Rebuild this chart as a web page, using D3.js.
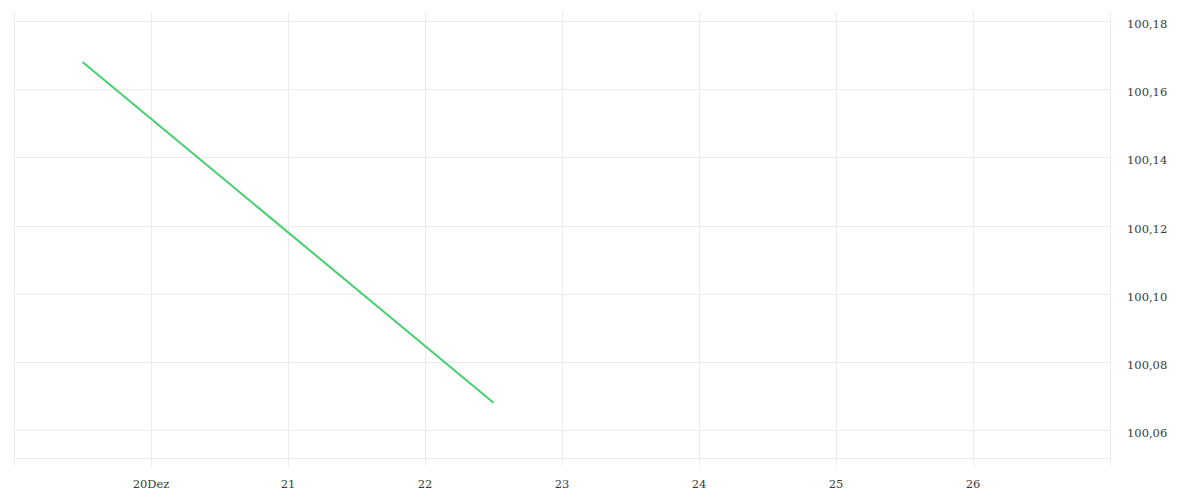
<!DOCTYPE html>
<html>
<head>
<meta charset="utf-8">
<script src="https://cdn.jsdelivr.net/npm/d3@7"></script>
<style>
  html, body { margin: 0; padding: 0; background: #fff; }
  svg text { font-family: "DejaVu Serif", serif; font-size: 11.5px; fill: #3a3a3a; }
</style>
</head>
<body>
<svg id="chart" width="1200" height="500"></svg>
<script>
// data
const dates = ['2019-12-19T12:00', '2019-12-22T12:00']
const values = [100.168, 100.068]
const yTicks = [100.06, 100.08, 100.10, 100.12, 100.14, 100.16, 100.18]
const xLabelDays = ['20Dez', '21', '22', '23', '24', '25', '26']
const xDomain = ['2019-12-19T00:00', '2019-12-27T00:00']

const plotLeft = 14, plotRight = 1110, plotTop = 12, plotBottom = 458, tickLen = 8

const svg = d3.select('#chart')
const parse = d3.isoParse
const data = dates.map((d, i) => ({date: parse(d), value: values[i]}))

const x = d3.scaleTime()
    .domain(xDomain.map(parse))
    .range([plotLeft, plotRight])

const y = d3.scaleLinear()
    .domain([100.06, 100.18])
    .range([430, 21])

const de = d3.formatLocale({decimal: ',', thousands: '.', grouping: [3], currency: ['', '€']})
const fmt = de.format('.2f')

// horizontal grid
svg.append('g')
    .selectAll('line')
    .data(yTicks)
    .join('line')
        .attr('x1', plotLeft)
        .attr('x2', plotRight)
        .attr('y1', d => Math.round(y(d)) + 0.5)
        .attr('y2', d => Math.round(y(d)) + 0.5)
        .attr('stroke', '#ebebeb')

// bottom border
svg.append('line')
    .attr('x1', plotLeft).attr('x2', plotRight)
    .attr('y1', plotBottom + 0.5).attr('y2', plotBottom + 0.5)
    .attr('stroke', '#ebebeb')

// vertical grid, one per day
const days = d3.timeDay.range(x.domain()[0], d3.timeDay.offset(x.domain()[1], 1))
svg.append('g')
    .selectAll('line')
    .data(days)
    .join('line')
        .attr('x1', d => Math.round(x(d)) + 0.5)
        .attr('x2', d => Math.round(x(d)) + 0.5)
        .attr('y1', plotTop)
        .attr('y2', plotBottom + tickLen)
        .attr('stroke', '#ebebeb')

// x labels
const labelDays = days.slice(1, 1 + xLabelDays.length)
svg.append('g')
    .selectAll('text')
    .data(labelDays)
    .join('text')
        .attr('x', d => x(d))
        .attr('y', 488)
        .attr('text-anchor', 'middle')
        .text((d, i) => xLabelDays[i])

// y labels
svg.append('g')
    .selectAll('text')
    .data(yTicks)
    .join('text')
        .attr('x', 1127)
        .attr('y', d => y(d) + 7)
        .text(d => fmt(d))

// line
const line = d3.line()
    .x(d => x(d.date))
    .y(d => y(d.value))

svg.append('path')
    .datum(data)
    .attr('fill', 'none')
    .attr('stroke', '#45cf6e')
    .attr('stroke-width', 2)
    .attr('d', line)
</script>
</body>
</html>
